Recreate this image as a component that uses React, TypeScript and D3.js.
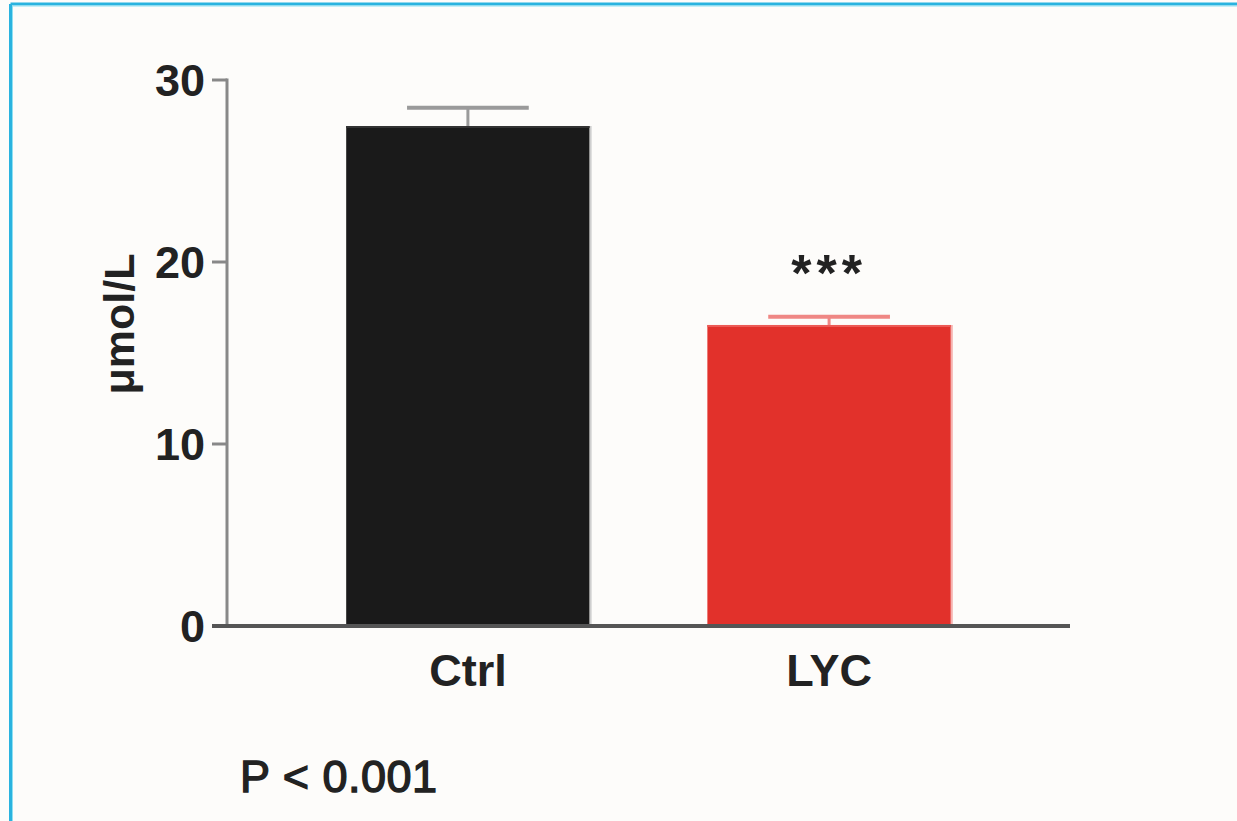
import React from 'react'
import * as d3 from 'd3'

// values
const groups = ['Ctrl', 'LYC']
const means = [27.47, 16.54]
const errors = [1.0, 0.45]
const fills = ['#1a1a1a', '#e2312b']
const errColors = ['#9a9a9a', '#ef8784']
const edgeColors = ['#cfcfcf', '#f6b3b0']
const yTicks = [0, 10, 20, 30]
const marks = ['', '***']

const W = 1237
const H = 821
const FONT = 'Liberation Sans, Arial, sans-serif'

export default function App() {
	const x = d3.scaleBand<string>()
		.domain(groups)
		.range([227, 1070])
		.paddingInner(0.326)
		.paddingOuter(0.33)
	const y = d3.scaleLinear()
		.domain([0, 30])
		.range([626, 80])
	const bw = x.bandwidth()
	const capW = bw * 0.5

	return (
		<svg width={W} height={H} style={{position: 'absolute', left: 0, top: 0}}>
			<rect x={0} y={0} width={W} height={H} fill="#fdfcfa"/>
			{/* frame */}
			<line x1={10.5} y1={4} x2={W} y2={4} stroke="#2ab3df" strokeWidth={3}/>
			<line x1={10.5} y1={4} x2={10.5} y2={H} stroke="#2ab3df" strokeWidth={3}/>
			<line x1={12} y1={6} x2={W} y2={6} stroke="#8fe0f2" strokeWidth={1}/>
			<line x1={12.5} y1={6} x2={12.5} y2={H} stroke="#8fe0f2" strokeWidth={1}/>

			{/* bars */}
			{groups.map((g, i) => {
				const x0 = x(g)!
				const cx = x0 + bw / 2
				return (
					<g key={g}>
						<line x1={cx} x2={cx} y1={y(means[i] + errors[i])} y2={y(means[i])}
							stroke={errColors[i]} strokeWidth={3}/>
						<line x1={cx - capW / 2} x2={cx + capW / 2}
							y1={y(means[i] + errors[i])} y2={y(means[i] + errors[i])}
							stroke={errColors[i]} strokeWidth={4}/>
						<rect x={x0} y={y(means[i])} width={bw} height={y(0) - y(means[i])}
							fill={fills[i]}/>
						<line x1={x0 + bw + 1} x2={x0 + bw + 1} y1={y(means[i])} y2={y(0)}
							stroke={edgeColors[i]} strokeWidth={2}/>
						<line x1={x0} x2={x0 + bw} y1={y(means[i]) + 1} y2={y(means[i]) + 1}
							stroke={i === 0 ? '#333' : '#ec5a55'} strokeWidth={2}/>
						{marks[i] &&
							<text x={cx} y={y(means[i] + errors[i]) - 26} textAnchor="middle"
								fontFamily={FONT} fontWeight="bold" fontSize={52} letterSpacing={5}
								fill="#222">{marks[i]}</text>}
						<text x={cx} y={686} textAnchor="middle" fontFamily={FONT}
							fontWeight="bold" fontSize={45} fill="#222">{g}</text>
					</g>
				)
			})}

			{/* y axis */}
			<line x1={227} x2={227} y1={y(30) - 1.5} y2={y(0)} stroke="#888" strokeWidth={3}/>
			{yTicks.map(t => (
				<g key={t}>
					<line x1={212} x2={227} y1={y(t)} y2={y(t)} stroke="#888" strokeWidth={3}/>
					<text x={205} y={y(t) + 16} textAnchor="end" fontFamily={FONT}
						fontWeight="bold" fontSize={45} fill="#222">{t}</text>
				</g>
			))}
			{/* x axis */}
			<line x1={212} x2={1070} y1={y(0)} y2={y(0)} stroke="#555" strokeWidth={4}/>

			<text transform={`translate(134,${324}) rotate(-90)`} textAnchor="middle"
				fontFamily={FONT} fontWeight="bold" fontSize={43} fill="#222">μmol/L</text>

			<text x={240} y={792} fontFamily={FONT} fontSize={45} fill="#222"
				stroke="#222" strokeWidth={1.4} letterSpacing={0.5}>P &lt; 0.001</text>
		</svg>
	)
}
